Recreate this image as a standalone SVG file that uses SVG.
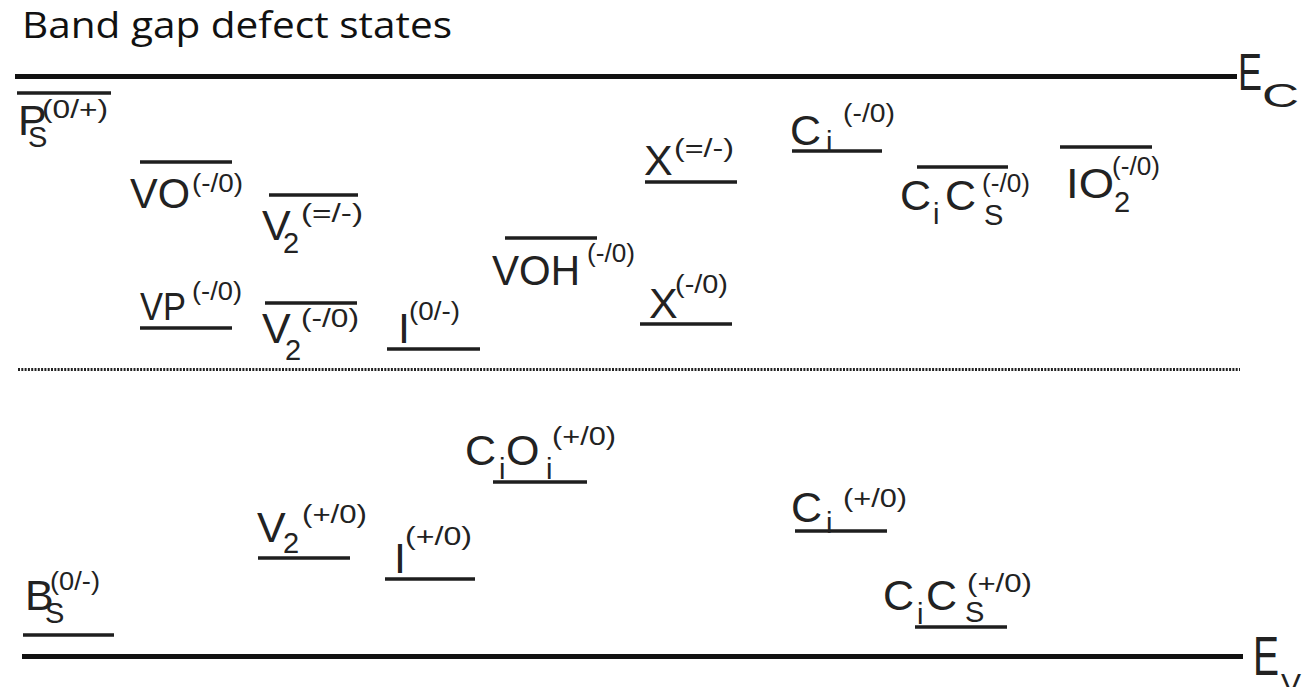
<svg xmlns="http://www.w3.org/2000/svg" width="1307" height="687" viewBox="0 0 1307 687">
<style>
 .t{font-family:"Liberation Sans",Arial,sans-serif;fill:#222}
 .m{font-size:43px}
 .sb{font-size:29px}
 .sp{font-size:26px}
 .lv{stroke:#1e1e1e;stroke-width:3.5}
 .band{stroke:#111;stroke-width:5}
 .mid{stroke:#222;stroke-width:3;stroke-dasharray:2 1.3}
</style>
<rect width="1307" height="687" fill="#fff"/>
<text x="22" y="38" font-family="'Open Sans','Liberation Sans',sans-serif" font-size="36" fill="#111" textLength="430" lengthAdjust="spacingAndGlyphs">Band gap defect states</text>

<g id="bands">
 <line class="band" x1="15" y1="76.5" x2="1237" y2="76.5"/>
 <line class="band" x1="22" y1="656.5" x2="1243" y2="656.5"/>
 <line class="mid" x1="18" y1="369.5" x2="1240" y2="369.5"/>
</g>
<g id="EC">
 <text class="t" x="1238" y="90" font-size="52" textLength="24" lengthAdjust="spacingAndGlyphs">E</text>
 <text class="t" x="1262" y="107" font-size="34" textLength="37" lengthAdjust="spacingAndGlyphs">C</text>
</g>
<g id="EV">
 <text class="t" x="1253" y="675" font-size="56" textLength="26" lengthAdjust="spacingAndGlyphs">E</text>
 <text class="t" x="1281" y="694" font-size="30">V</text>
</g>

<g id="PS">
 <line class="lv" x1="17" y1="93" x2="111" y2="93"/>
 <text class="t m" x="18" y="135">P</text>
 <text class="t sb" x="28" y="147">S</text>
 <text class="t sp" x="42" y="118" textLength="66" lengthAdjust="spacingAndGlyphs">(0/+)</text>
</g>
<g id="VO">
 <line class="lv" x1="140" y1="162" x2="232" y2="162"/>
 <text class="t m" x="130" y="208" textLength="60" lengthAdjust="spacingAndGlyphs">VO</text>
 <text class="t sp" x="192" y="192" textLength="51" lengthAdjust="spacingAndGlyphs">(-/0)</text>
</g>
<g id="V2mm">
 <line class="lv" x1="269" y1="195" x2="358" y2="195"/>
 <text class="t m" x="262" y="240">V</text>
 <text class="t sb" x="283" y="253">2</text>
 <text class="t sp" x="301" y="222" textLength="62" lengthAdjust="spacingAndGlyphs">(=/-)</text>
</g>
<g id="Xmm">
 <line class="lv" x1="645" y1="182" x2="737" y2="182"/>
 <text class="t m" x="644" y="175">X</text>
 <text class="t sp" x="674" y="157" textLength="60" lengthAdjust="spacingAndGlyphs">(=/-)</text>
</g>
<g id="Ci_acc">
 <line class="lv" x1="792" y1="151" x2="882" y2="151"/>
 <text class="t m" x="790" y="145">C</text>
 <text class="t sb" x="826" y="152">i</text>
 <text class="t sp" x="843" y="122" textLength="52" lengthAdjust="spacingAndGlyphs">(-/0)</text>
</g>
<g id="CiCs_acc">
 <line class="lv" x1="917" y1="167" x2="1008" y2="167"/>
 <text class="t m" x="900" y="210">C</text>
 <text class="t sb" x="933" y="224">i</text>
 <text class="t m" x="945" y="210">C</text>
 <text class="t sb" x="984" y="225">S</text>
 <text class="t sp" x="982" y="192" textLength="48" lengthAdjust="spacingAndGlyphs">(-/0)</text>
</g>
<g id="IO2">
 <line class="lv" x1="1060" y1="147" x2="1152" y2="147"/>
 <text class="t m" x="1066" y="198" textLength="48" lengthAdjust="spacingAndGlyphs">IO</text>
 <text class="t sb" x="1114" y="212">2</text>
 <text class="t sp" x="1112" y="175" textLength="48" lengthAdjust="spacingAndGlyphs">(-/0)</text>
</g>
<g id="VP">
 <line class="lv" x1="140" y1="328" x2="232" y2="328"/>
 <text class="t" x="140" y="320" font-size="39" textLength="46" lengthAdjust="spacingAndGlyphs">VP</text>
 <text class="t sp" x="192" y="300" textLength="50" lengthAdjust="spacingAndGlyphs">(-/0)</text>
</g>
<g id="V2m0">
 <line class="lv" x1="265" y1="303" x2="357" y2="303"/>
 <text class="t m" x="262" y="343">V</text>
 <text class="t sb" x="285" y="360">2</text>
 <text class="t sp" x="301" y="327" textLength="58" lengthAdjust="spacingAndGlyphs">(-/0)</text>
</g>
<g id="I0m">
 <line class="lv" x1="387" y1="349" x2="480" y2="349"/>
 <text class="t m" x="398" y="343">I</text>
 <text class="t sp" x="409" y="320" textLength="51" lengthAdjust="spacingAndGlyphs">(0/-)</text>
</g>
<g id="VOH">
 <line class="lv" x1="505" y1="238" x2="597" y2="238"/>
 <text class="t m" x="492" y="285" textLength="88" lengthAdjust="spacingAndGlyphs">VOH</text>
 <text class="t sp" x="587" y="262" textLength="48" lengthAdjust="spacingAndGlyphs">(-/0)</text>
</g>
<g id="Xm0">
 <line class="lv" x1="640" y1="324" x2="732" y2="324"/>
 <text class="t m" x="649" y="318">X</text>
 <text class="t sp" x="675" y="293" textLength="53" lengthAdjust="spacingAndGlyphs">(-/0)</text>
</g>
<g id="CiOi">
 <line class="lv" x1="493" y1="482" x2="587" y2="482"/>
 <text class="t m" x="465" y="465">C</text>
 <text class="t sb" x="499" y="479">i</text>
 <text class="t m" x="506" y="465">O</text>
 <text class="t sb" x="546" y="479">i</text>
 <text class="t sp" x="552" y="445" textLength="64" lengthAdjust="spacingAndGlyphs">(+/0)</text>
</g>
<g id="V2p0">
 <line class="lv" x1="258" y1="558" x2="350" y2="558"/>
 <text class="t m" x="257" y="542">V</text>
 <text class="t sb" x="283" y="553">2</text>
 <text class="t sp" x="302" y="523" textLength="65" lengthAdjust="spacingAndGlyphs">(+/0)</text>
</g>
<g id="Ip0">
 <line class="lv" x1="385" y1="579" x2="475" y2="579"/>
 <text class="t m" x="394" y="573">I</text>
 <text class="t sp" x="405" y="545" textLength="67" lengthAdjust="spacingAndGlyphs">(+/0)</text>
</g>
<g id="BS">
 <line class="lv" x1="23" y1="635" x2="114" y2="635"/>
 <text class="t m" x="25" y="610">B</text>
 <text class="t sb" x="45" y="623">S</text>
 <text class="t sp" x="50" y="590" textLength="50" lengthAdjust="spacingAndGlyphs">(0/-)</text>
</g>
<g id="Ci_don">
 <line class="lv" x1="795" y1="531" x2="887" y2="531"/>
 <text class="t m" x="791" y="522">C</text>
 <text class="t sb" x="826" y="533">i</text>
 <text class="t sp" x="843" y="507" textLength="64" lengthAdjust="spacingAndGlyphs">(+/0)</text>
</g>
<g id="CiCs_don">
 <line class="lv" x1="915" y1="627" x2="1007" y2="627"/>
 <text class="t m" x="883" y="610">C</text>
 <text class="t sb" x="917" y="624">i</text>
 <text class="t m" x="926" y="610">C</text>
 <text class="t sb" x="965" y="622">S</text>
 <text class="t sp" x="967" y="592" textLength="65" lengthAdjust="spacingAndGlyphs">(+/0)</text>
</g>
</svg>
